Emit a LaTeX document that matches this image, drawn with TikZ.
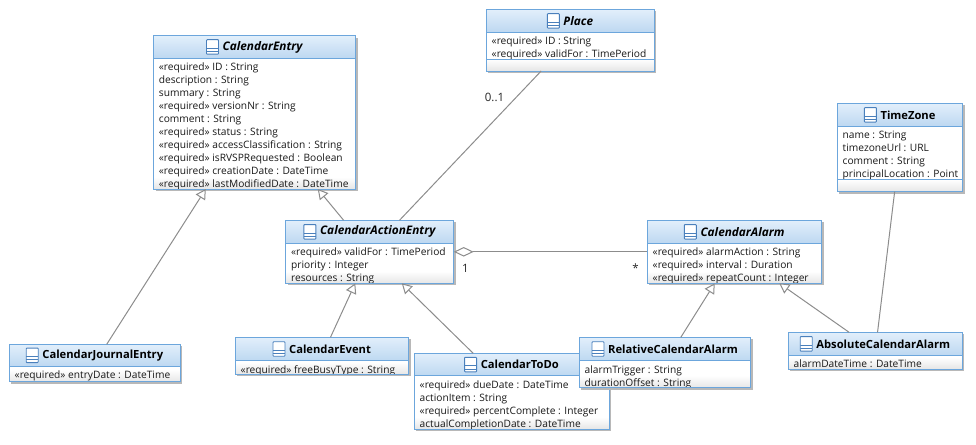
\documentclass[tikz,border=0pt]{standalone}
\usepackage{fontspec}
\setmainfont{Open Sans}
\usetikzlibrary{arrows.meta,positioning,shadows}
\definecolor{classline}{HTML}{6CA6DC}
\definecolor{classtop}{HTML}{E2EFFB}
\definecolor{classbottom}{HTML}{BDD8F1}
\definecolor{classfoot}{HTML}{E6E6E6}
\definecolor{iconline}{HTML}{4A80BC}
\definecolor{linkline}{HTML}{8C8C8C}
\def\abstractname#1{{\fontsize{11.8}{12}\selectfont\itshape #1}}
\tikzset{
	classbox/.style={draw=classline, line width=1pt, fill=white, inner sep=0pt, outer sep=0pt, general shadow={fill=black!28, shadow xshift=2pt, shadow yshift=-2pt}},
	classhead/.style={draw=classline, line width=1pt, top color=classtop, bottom color=classbottom, inner sep=0pt, outer sep=0pt},
	classtitle/.style={font=\fontsize{11.2}{12}\selectfont\bfseries, inner sep=0pt, text=black},
	classtext/.style={font=\fontsize{10.2}{13}\selectfont, align=left, inner sep=0pt, text=black!90},
	classicon/.style={draw=iconline, line width=0.9pt, fill=white, minimum width=12pt, minimum height=14.5pt, inner sep=0pt, rounded corners=0.7pt,
		path picture={
			\draw[iconline, line width=0.9pt] ([yshift=-1.2pt]path picture bounding box.west) -- ([yshift=-1.2pt]path picture bounding box.east);
			\draw[iconline, line width=0.9pt] ([yshift=-4.4pt]path picture bounding box.west) -- ([yshift=-4.4pt]path picture bounding box.east);
		}},
	multi/.style={font=\fontsize{11.5}{14}\selectfont, inner sep=0pt, text=black!85},
	inherit/.style={draw=linkline, line width=1pt, -{Triangle[open, length=10pt, width=11pt, fill=white]}},
	aggregate/.style={draw=linkline, line width=1pt, {Diamond[open, length=20pt, width=9.5pt, fill=white]}-},
	assoc/.style={draw=linkline, line width=1pt},
}
% name, centre, (width, height, header height), title, lines
\def\classbox#1(#2,#3)(#4,#5,#6)#7#8{
	\node[classbox, minimum width=#4pt, minimum height=#5pt] (#1) at (#2,#3) {};
	\shade[top color=white, bottom color=classfoot] ([yshift=12pt]#1.south west) rectangle (#1.south east);
	\node[classhead, minimum width=#4pt, minimum height=#6pt, anchor=north] (#1head) at (#1.north) {};
	\node[classtitle, xshift=8pt] (#1title) at (#1head.center) {#7};
	\node[classicon, left=3.5pt of #1title] (#1icon) {};
	\begin{scope}
		\clip (#1.north west) rectangle (#1.south east);
		\node[classtext, anchor=north west, xshift=5.2pt, yshift=-3pt] (#1text) at (#1head.south west) {\strut #8};
	\end{scope}
	\draw[classline, line width=1pt] (#1.north west) rectangle (#1.south east);
}

\begin{document}
\begin{tikzpicture}[x=1pt, y=-1pt]
	\useasboundingbox (0,0) rectangle (976,444);

	%%%%% classes %%%%%
	\classbox{entry}(254.6,112.3)(202.2,153.4,22.7){\abstractname{CalendarEntry}}{«required» ID : String\\ description : String\\ summary : String\\ «required» versionNr : String\\ comment : String\\ «required» status : String\\ «required» accessClassification : String\\ «required» isRVSPRequested : Boolean\\ «required» creationDate : DateTime\\ «required» lastModifiedDate : DateTime}

	\classbox{place}(570.3,40.2)(168,61.7,23){\abstractname{Place}}{«required» ID : String\\ «required» validFor : TimePeriod}
	\draw[classline, line width=1pt] ([yshift=12pt]place.south west) -- ([yshift=12pt]place.south east);

	\classbox{zone}(900,147.5)(125.4,88.4,23){TimeZone}{name : String\\ timezoneUrl : URL\\ comment : String\\ principalLocation : Point}
	\draw[classline, line width=1pt] ([yshift=12pt]zone.south west) -- ([yshift=12pt]zone.south east);

	\classbox{action}(369.7,251.8)(168,63,23){\abstractname{CalendarActionEntry}}{«required» validFor : TimePeriod\\ priority : Integer\\ resources : String}
	\classbox{alarm}(734.5,251.8)(174.4,63,23){\abstractname{CalendarAlarm}}{«required» alarmAction : String\\ «required» interval : Duration\\ «required» repeatCount : Integer}

	\classbox{journal}(94.8,363)(171,37.4,22){CalendarJournalEntry}{«required» entryDate : DateTime}
	\classbox{event}(322,355.8)(173.4,37,23.4){CalendarEvent}{«required» freeBusyType : String}
	\classbox{todo}(511.8,391.2)(195,75.7,22.4){CalendarToDo}{«required» dueDate : DateTime\\ actionItem : String\\ «required» percentComplete : Integer\\ actualCompletionDate : DateTime}
	\classbox{relative}(665,362.5)(171.4,50.4,23.4){RelativeCalendarAlarm}{alarmTrigger : String\\ durationOffset : String}
	\classbox{absolute}(875.3,350.7)(174,36.7,23){AbsoluteCalendarAlarm}{alarmDateTime : DateTime}

	%%%%% links %%%%%
	\draw[inherit] (journal) -- (entry);
	\draw[inherit] (action) -- (entry);
	\draw[inherit] (event) -- (action);
	\draw[inherit] (todo) -- (action);
	\draw[inherit] (relative) -- (alarm);
	\draw[inherit] (absolute) -- (alarm);
	\draw[assoc] (place) -- (action);
	\draw[assoc] (zone) -- (absolute);
	\draw[aggregate] (action) -- (alarm);

	\node[multi] (placemulti) at (494.5,97) {0..1};
	\node[multi] (actionmulti) at (465.5,268.5) {1};
	\node[multi] (alarmmulti) at (635.5,268) {*};
\end{tikzpicture}
\end{document}
